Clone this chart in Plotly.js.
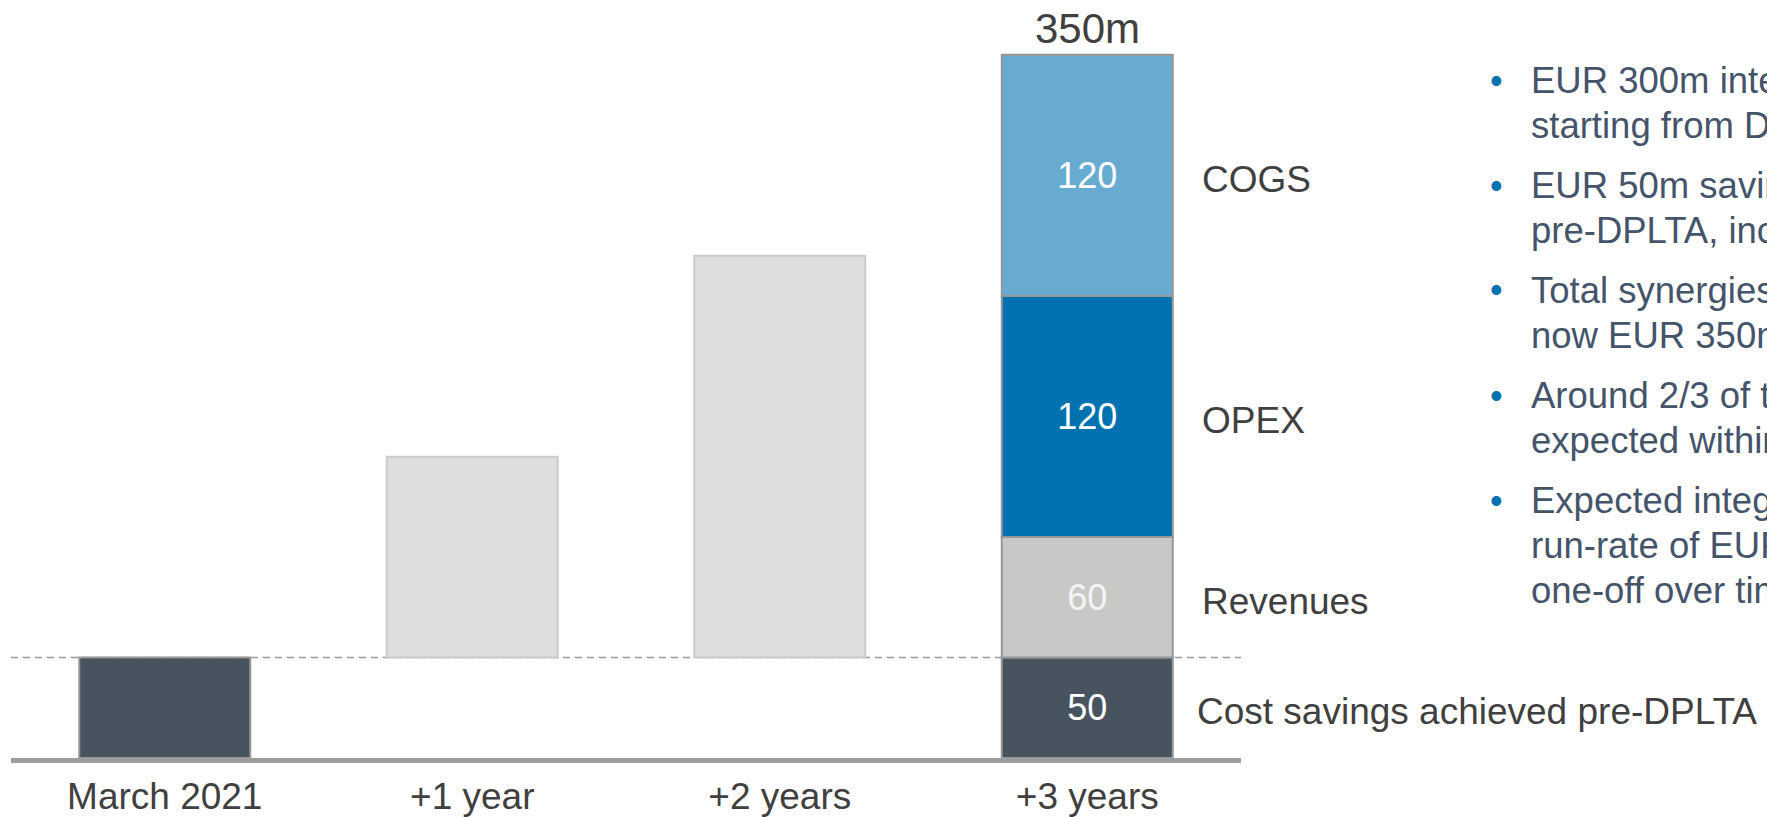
<!DOCTYPE html>
<html>
<head>
<meta charset="utf-8">
<script src="https://cdn.plot.ly/plotly-3.0.1.min.js"></script>
<style>
  html, body { margin: 0; padding: 0; background: #ffffff; overflow: hidden; }
  #chart { width: 1767px; height: 817px; }
</style>
</head>
<body>
<div id="chart"></div>
<script>
// ---- data ----
const categories = ['March 2021', '+1 year', '+2 years', '+3 years'];
const costSavings = [50, null, null, 50];          // cost savings achieved pre-DPLTA
const cumulativeSynergies = [null, 150, 250, null]; // grey ramp-up bars (top values)
const revenues = [null, null, null, 60];
const opex = [null, null, null, 120];
const cogs = [null, null, null, 120];
const totalLabel = '350m';
const segmentNames = ['Cost savings achieved pre-DPLTA', 'Revenues', 'OPEX', 'COGS'];
const bullets = [
  ['EUR 300m integration synergies targeted', 'starting from DPLTA effectiveness'],
  ['EUR 50m savings already achieved', 'pre-DPLTA, incl. restructuring effects'],
  ['Total synergies target', 'now EUR 350m run-rate'],
  ['Around 2/3 of the synergies', 'expected within two years'],
  ['Expected integration costs at', 'run-rate of EUR 350m synergies', 'one-off over time']
];

// ---- styling / layout constants ----
const FONT = 'Liberation Sans, Arial, Helvetica, sans-serif';
const TEXT = '#404040';
const C_DARK = '#475460', C_COGS = '#67acd0', C_OPEX = '#0072b0', C_REV = '#c8c8c6', C_RAMP = '#dedede';
const OUTLINE = '#969696';
const BAR_W = 0.556;
const LBL_FS = 37;
const PLOT_L = 11, PLOT_W = 1230, PLOT_H = 758;
const pxX = px => (px - PLOT_L) / PLOT_W;
const pxY = py => 1 - py / PLOT_H;

const base = costSavings[0];
const rampHeights = cumulativeSynergies.map(v => v == null ? null : v - base);
const revBase = costSavings[3];
const opexBase = revBase + revenues[3];
const cogsBase = opexBase + opex[3];
const total = cogsBase + cogs[3];

// value labels only on the final stacked bar
const lastOnly = y => y.map((v, i) => (v == null || i !== categories.length - 1) ? '' : String(v));

function barTrace(name, y, b, color, lineColor, text, textColor) {
  return {
    type: 'bar', name: name, x: categories, y: y, base: b, width: BAR_W,
    marker: { color: color, line: { color: lineColor, width: 2 } },
    text: text,
    textposition: text ? 'inside' : 'none',
    insidetextanchor: 'middle',
    textangle: 0,
    constraintext: 'none',
    textfont: { family: FONT, size: 36, color: textColor || '#ffffff' },
    hoverinfo: 'skip'
  };
}

const traces = [
  barTrace('Ramp-up', rampHeights, base, C_RAMP, '#cbcbcb', null),
  barTrace(segmentNames[0], costSavings, 0, C_DARK, OUTLINE, lastOnly(costSavings), '#ffffff'),
  barTrace(segmentNames[1], revenues, revBase, C_REV, OUTLINE, lastOnly(revenues), '#f4f4f4'),
  barTrace(segmentNames[2], opex, opexBase, C_OPEX, OUTLINE, lastOnly(opex), '#ffffff'),
  barTrace(segmentNames[3], cogs, cogsBase, C_COGS, OUTLINE, lastOnly(cogs), '#ffffff')
];

const annotations = [];
// total on top
annotations.push({
  xref: 'x', yref: 'y', x: categories[3], y: total, text: totalLabel,
  showarrow: false, xanchor: 'center', yanchor: 'bottom', yshift: 1,
  font: { family: FONT, size: 42, color: TEXT }
});
// segment names to the right of the last bar
const segMids = [costSavings[3] / 2, revBase + revenues[3] / 2, opexBase + opex[3] / 2, cogsBase + cogs[3] / 2];
segmentNames.forEach((n, i) => {
  annotations.push({
    xref: 'x', yref: 'y', x: 3 + BAR_W / 2, y: segMids[i], text: n,
    showarrow: false, xanchor: 'left', yanchor: 'middle',
    xshift: i === 0 ? 22 : 27, yshift: -4,
    font: { family: FONT, size: LBL_FS, color: TEXT }
  });
});
// bullet list on the right (one annotation per line for exact line spacing)
const BUL_FS = 36.5, FIRST_BASE = 93, STEP = 105, LINE = 45;
bullets.forEach((lines, i) => {
  const b0 = FIRST_BASE + STEP * i;
  lines.forEach((t, j) => {
    const bl = b0 + LINE * j;
    annotations.push({
      xref: 'paper', yref: 'paper', x: pxX(1529), y: pxY(bl - 0.3465 * BUL_FS), text: t,
      showarrow: false, xanchor: 'left', yanchor: 'middle', align: 'left',
      font: { family: FONT, size: BUL_FS, color: '#44546a' }
    });
  });
  annotations.push({
    xref: 'paper', yref: 'paper', x: pxX(1496), y: pxY(b0 - 13), text: '•',
    showarrow: false, xanchor: 'center', yanchor: 'middle',
    font: { family: FONT, size: 36, color: C_OPEX }
  });
});

const layout = {
  width: 1767, height: 817,
  margin: { l: PLOT_L, r: 1767 - PLOT_L - PLOT_W, t: 0, b: 817 - PLOT_H, pad: 0 },
  paper_bgcolor: '#ffffff', plot_bgcolor: '#ffffff',
  barmode: 'overlay',
  showlegend: false,
  xaxis: {
    type: 'category', range: [-0.5, 3.5], showgrid: false, zeroline: false,
    showline: true, linecolor: '#9d9d9d', linewidth: 5, ticks: '',
    ticklabelstandoff: 2,
    tickfont: { family: FONT, size: LBL_FS, color: TEXT }, fixedrange: true
  },
  yaxis: {
    range: [0, PLOT_H / 2.009], visible: false, showgrid: false, zeroline: false, fixedrange: true
  },
  shapes: [{
    type: 'line', layer: 'below', xref: 'paper', yref: 'y',
    x0: 0, x1: 1, y0: base, y1: base,
    line: { color: '#9a9a9a', width: 1.5, dash: '7px,5px' }
  }],
  annotations: annotations
};

Plotly.newPlot('chart', traces, layout, { staticPlot: true, displayModeBar: false });
</script>
</body>
</html>
